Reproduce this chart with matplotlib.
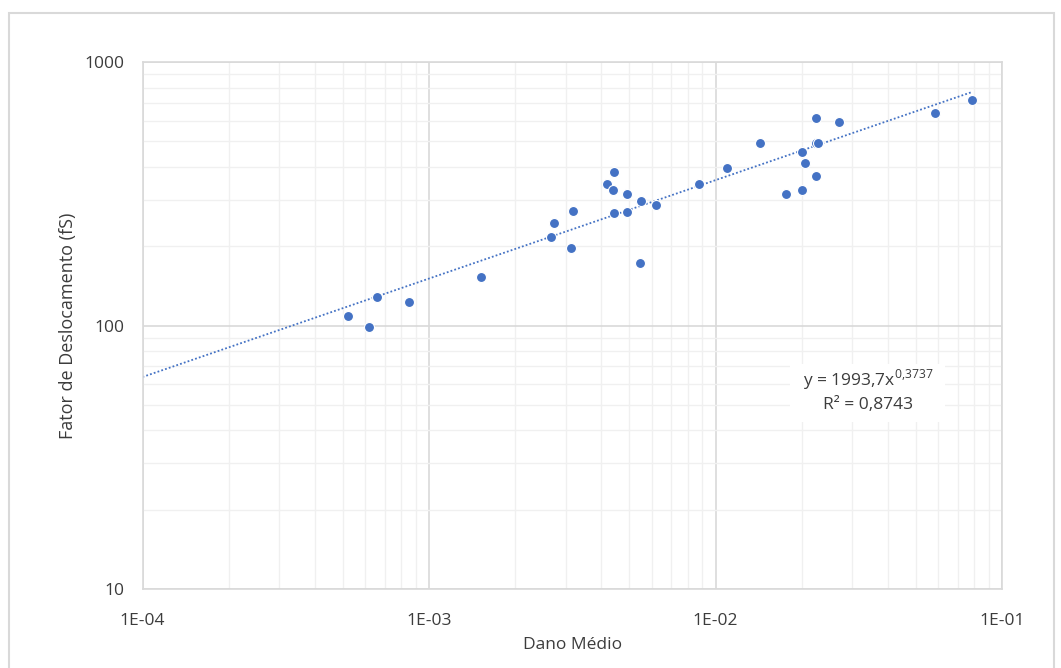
import numpy as np
import matplotlib.pyplot as plt
from matplotlib.ticker import LogLocator, FixedLocator, NullFormatter
from matplotlib.patches import Rectangle

plt.rcParams['font.family'] = ['Open Sans', 'DejaVu Sans']
plt.rcParams['mathtext.fontset'] = 'custom'
plt.rcParams['mathtext.rm'] = 'Open Sans'

# dados
dano = [5.23e-4, 6.19e-4, 6.60e-4, 8.49e-4, 1.519e-3, 2.673e-3, 2.738e-3, 3.13e-3,
        3.175e-3, 4.19e-3, 4.38e-3, 4.42e-3, 4.42e-3, 4.90e-3, 4.90e-3, 5.45e-3,
        5.51e-3, 6.18e-3, 8.76e-3, 1.094e-2, 1.43e-2, 1.758e-2, 2.004e-2, 2.004e-2,
        2.048e-2, 2.243e-2, 2.243e-2, 2.243e-2, 2.274e-2, 2.698e-2, 5.82e-2, 7.87e-2]
fs = [108.6, 98.9, 128.5, 123.3, 153.5, 217.7, 246.0, 197.2,
      272.5, 345.8, 326.4, 384.0, 267.8, 316.9, 270.8, 173.4,
      297.3, 287.1, 345.8, 395.7, 494.8, 316.9, 326.4, 455.0,
      414.5, 614.1, 370.0, 494.8, 494.8, 593.1, 643.1, 718.7]
coef_a = 1993.7
coef_b = 0.3737
xticks = [1e-4, 1e-3, 1e-2, 1e-1]
xticklabels = ['1E-04', '1E-03', '1E-02', '1E-01']
yticks = [10, 100, 1000]
yticklabels = ['10', '100', '1000']

azul = '#4472C4'
cinza = '#3c3c3c'
fig = plt.figure(figsize=(10.61, 6.68), dpi=100)
fig.patches.append(Rectangle((9/1061, -0.01), 1045/1061, (668-13)/668 + 0.01,
                             transform=fig.transFigure, fill=False, ec='#d9d9d9', lw=1.5))
ax = fig.add_axes([142.5/1061, 79/668, (1002-142.5)/1061, (589-62.2)/668])
ax.set_xscale('log')
ax.set_yscale('log')
ax.set_xlim(1e-4, 1e-1)
ax.set_ylim(10, 1000)

ax.xaxis.set_major_locator(FixedLocator(xticks))
ax.yaxis.set_major_locator(FixedLocator(yticks))
ax.set_xticklabels(xticklabels)
ax.set_yticklabels(yticklabels)
ax.xaxis.set_minor_locator(LogLocator(base=10, subs=np.arange(2, 10)))
ax.yaxis.set_minor_locator(LogLocator(base=10, subs=np.arange(2, 10)))
ax.xaxis.set_minor_formatter(NullFormatter())
ax.yaxis.set_minor_formatter(NullFormatter())
ax.grid(which='major', color='#d9d9d9', lw=1.2)
ax.grid(which='minor', color='#f0f0f0', lw=1.0)
ax.set_axisbelow(True)
ax.tick_params(which='both', length=0, labelsize=12.5, colors=cinza)
ax.tick_params(axis='x', pad=17)
ax.tick_params(axis='y', pad=13)
for s in ax.spines.values():
    s.set_color('#d9d9d9')
    s.set_linewidth(1.2)

xl = np.logspace(-4, np.log10(max(dano)), 200)
ax.plot(xl, coef_a * xl ** coef_b, ls=(0, (1, 1.2)), color=azul, lw=1.3, zorder=2)
ax.scatter(dano, fs, s=52, color=azul, edgecolors='white', linewidths=0.8, zorder=3)

ax.set_xlabel('Dano Médio', fontsize=12.5, color=cinza, labelpad=6)
ax.set_ylabel('Fator de Deslocamento (fS)', fontsize=13, color=cinza, labelpad=5)

fig.patches.append(Rectangle((790/1061, (668-422)/668), 155/1061, 58/668,
                             transform=fig.transFigure, fc='white', ec='none', zorder=5))
fig.text(868/1061, (668-380)/668, 'y = 1993,7x$^{0{,}3737}$', ha='center', va='center',
         fontsize=12.5, color=cinza, zorder=6)
fig.text(868/1061, (668-405)/668, 'R² = 0,8743', ha='center', va='center',
         fontsize=12.5, color=cinza, zorder=6)

fig.savefig('out.png', dpi=100, facecolor='white')
